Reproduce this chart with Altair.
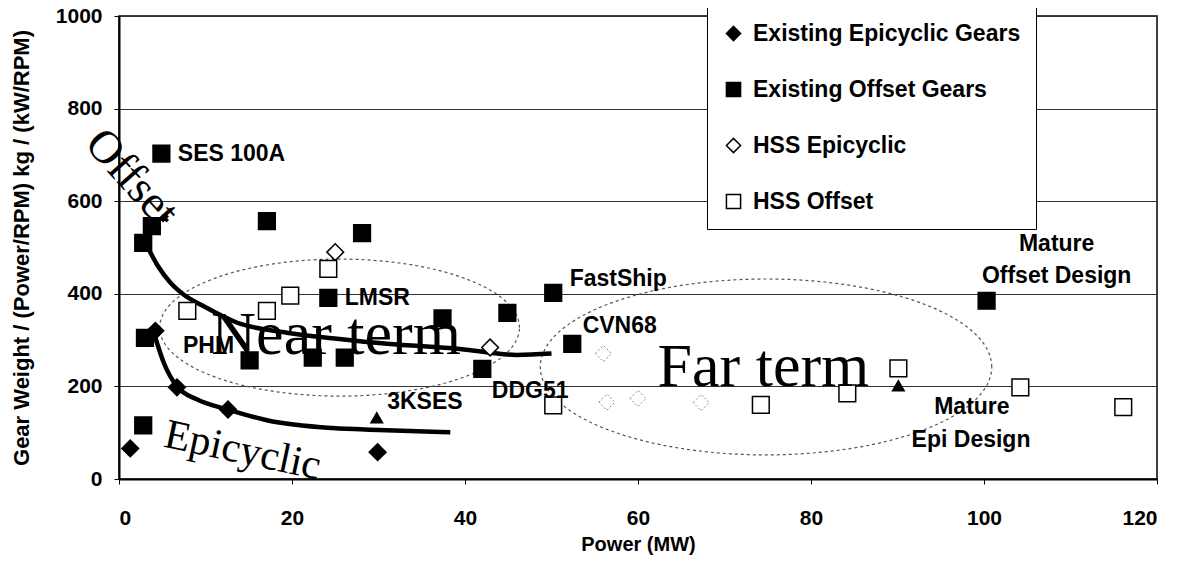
import altair as alt
import pandas as pd
import numpy as np

# ---------------- data ----------------
series_names = ["Existing Epicyclic Gears", "Existing Offset Gears", "HSS Epicyclic", "HSS Offset"]

ee_x = [1.3, 4.2, 6.7, 12.6, 29.9]
ee_y = [66, 320, 198, 150, 58]

eo_x = [4.9, 17.1, 28.1, 3.8, 2.8, 24.2, 3.0, 15.1, 22.4, 26.1, 37.4, 2.8, 50.2, 44.9, 42.0, 52.4, 100.3]
eo_y = [703, 557, 531, 546, 510, 391, 305, 256, 262, 262, 347, 116, 402, 359, 238, 292, 385]

he_x = [25.0, 42.9]
he_y = [490, 284]

he_faint_x = [56.0, 56.4, 60.0, 67.3]
he_faint_y = [271, 166, 174, 165]

ho_x = [7.9, 17.1, 19.8, 24.2, 50.2, 74.2, 84.2, 90.1, 104.2, 116.1]
ho_y = [363, 363, 396, 454, 159, 160, 185, 239, 198, 155]

tri_x = [29.8, 90.1]
tri_y = [133, 202]

cross_x = [5.3]
cross_y = [563]

offset_curve_x = [3.2, 4.5, 5.9, 7.5, 9.7, 13.6, 19.4, 25.2, 31.0, 39.4, 46.0, 50.0]
offset_curve_y = [505, 460, 425, 398, 374, 338, 316, 303, 292, 281, 268, 271]

epi_curve_x = [4.2, 5.2, 6.7, 9.0, 12.6, 17.1, 24.7, 30.0, 38.3]
epi_curve_y = [305, 250, 200, 172, 150, 127, 110, 106, 101]

# ellipses: centre x, centre y, half-width (MW), half-height
ellipse_names = ["near", "far"]
ellipse_cx = [25.5, 74.8]
ellipse_cy = [327, 242]
ellipse_rx = [20.8, 26.1]
ellipse_ry = [148, 190]

label_text = ["SES 100A", "LMSR", "PHM", "3KSES", "FastShip", "CVN68", "DDG51"]
label_x = [6.8, 26.1, 7.4, 31.0, 52.1, 53.6, 43.1]
label_y = [703, 391, 288, 166, 432, 331, 191]

clabel_text = ["Mature", "Offset Design", "Mature", "Epi Design"]
clabel_x = [108.4, 108.4, 98.6, 98.5]
clabel_y = [507, 439, 155, 84]

big_text = ["Near term", "Far term"]
big_x = [25.1, 74.5]
big_y = [271, 200]

rot_text = ["Offset", "Epicyclic"]
rot_x = [1.5, 14.3]
rot_y = [650, 62]
rot_angle = [48, 12]
rot_size = [46, 42]

# ---------------- tables ----------------
rows = []
for name, xs, ys in zip(series_names, [ee_x, eo_x, he_x, ho_x], [ee_y, eo_y, he_y, ho_y]):
    for a, b in zip(xs, ys):
        rows.append({"series": name, "power": a, "gw": b})
pts = pd.DataFrame(rows)

faint = pd.DataFrame({"power": he_faint_x, "gw": he_faint_y})
tri = pd.DataFrame({"power": tri_x, "gw": tri_y})
cross = pd.DataFrame({"power": cross_x, "gw": cross_y})

curves = pd.concat([
    pd.DataFrame({"curve": "offset", "power": offset_curve_x, "gw": offset_curve_y, "i": range(len(offset_curve_x))}),
    pd.DataFrame({"curve": "epi", "power": epi_curve_x, "gw": epi_curve_y, "i": range(len(epi_curve_x))}),
])

t = np.linspace(0, 2 * np.pi, 121)
ell_rows = []
for n, cx, cy, rx, ry in zip(ellipse_names, ellipse_cx, ellipse_cy, ellipse_rx, ellipse_ry):
    for k, tt in enumerate(t):
        ell_rows.append({"ell": n, "power": cx + rx * np.cos(tt), "gw": cy + ry * np.sin(tt), "i": k})
ell = pd.DataFrame(ell_rows)

labels = pd.DataFrame({"txt": label_text, "power": label_x, "gw": label_y})
clabels = pd.DataFrame({"txt": clabel_text, "power": clabel_x, "gw": clabel_y})
bigs = pd.DataFrame({"txt": big_text, "power": big_x, "gw": big_y})

# ---------------- encodings ----------------
X = alt.X("power:Q", scale=alt.Scale(domain=[0, 120], nice=False),
          axis=alt.Axis(values=[0, 20, 40, 60, 80, 100, 120], title="Power (MW)", grid=False,
                        format="d", labelPadding=23, tickSize=5, titlePadding=6, titleFontSize=20))
Y = alt.Y("gw:Q", scale=alt.Scale(domain=[0, 1000], nice=False),
          axis=alt.Axis(values=[0, 200, 400, 600, 800, 1000], format="d",
                        title="Gear Weight / (Power/RPM)  kg / (kW/RPM)", grid=True,
                        labelPadding=12, tickSize=5, titlePadding=22, titleFontSize=22))

legend = alt.Legend(title=None, orient="none", legendX=588, legendY=-9,
                    strokeColor="black", fillColor="white",
                    padding=15, rowPadding=32, labelFontSize=23, labelFont="Liberation Sans",
                    labelFontWeight="bold", labelColor="black", symbolSize=200,
                    symbolStrokeWidth=1.5, symbolStrokeColor="black", labelOffset=8,
                    labelLimit=400)

ellipses = alt.Chart(ell).mark_line(color="#555", strokeWidth=1.2, strokeDash=[3, 3]).encode(
    x=X, y=Y, detail="ell:N", order="i:Q")

curve_layer = alt.Chart(curves).mark_line(color="black", strokeWidth=4.5, interpolate="monotone").encode(
    x=X, y=Y, detail="curve:N", order="i:Q")

points = alt.Chart(pts).mark_point(filled=True, strokeWidth=1.5, size=280, opacity=1).encode(
    x=X, y=Y,
    shape=alt.Shape("series:N", scale=alt.Scale(domain=series_names,
                                                 range=["diamond", "square", "diamond", "square"]),
                    legend=legend),
    fill=alt.Fill("series:N", scale=alt.Scale(domain=series_names,
                                               range=["black", "black", "white", "white"]),
                  legend=legend),
    stroke=alt.Stroke("series:N", scale=alt.Scale(domain=series_names,
                                                   range=["black", "black", "black", "black"]),
                      legend=legend),
)

faint_pts = alt.Chart(faint).mark_point(shape="diamond", size=260, stroke="#888", strokeWidth=1,
                                        strokeDash=[2, 2], fill="white", filled=False, opacity=1).encode(x=X, y=Y)

tri_pts = alt.Chart(tri).mark_point(shape="triangle-up", size=200, filled=True, color="black", opacity=1).encode(x=X, y=Y)

cross_pts = alt.Chart(cross).mark_point(shape="cross", size=70, filled=True, color="black", angle=45, opacity=1).encode(x=X, y=Y)

label_layer = alt.Chart(labels).mark_text(align="left", baseline="middle", font="Liberation Sans",
                                          fontWeight="bold", fontSize=23, color="black").encode(
    x=X, y=Y, text="txt:N")

clabel_layer = alt.Chart(clabels).mark_text(align="center", baseline="middle", font="Liberation Sans",
                                            fontWeight="bold", fontSize=23, color="black").encode(
    x=X, y=Y, text="txt:N")

big_layer = alt.Chart(bigs).mark_text(align="center", baseline="alphabetic", font="Liberation Serif",
                                      fontSize=62, color="black").encode(x=X, y=Y, text="txt:N")

rot_layers = []
for i in range(len(rot_text)):
    d = pd.DataFrame({"txt": [rot_text[i]], "power": [rot_x[i]], "gw": [rot_y[i]]})
    rot_layers.append(
        alt.Chart(d).mark_text(align="center", baseline="middle", font="Liberation Serif",
                               fontSize=rot_size[i], angle=rot_angle[i], color="black").encode(
            x=X, y=Y, text="txt:N"))

chart = alt.layer(ellipses, curve_layer, faint_pts, tri_pts, cross_pts, points,
                  label_layer, clabel_layer, big_layer, *rot_layers).properties(
    width=1038, height=463,
    padding={"left": 111, "top": 8, "right": 17, "bottom": 88},
    autosize=alt.AutoSizeParams(type="none"),
    background="white",
).configure_view(stroke="black", strokeWidth=1.5).configure_axis(
    domainColor="black", domainWidth=2, tickColor="black", tickWidth=1,
    gridColor="#333", gridWidth=1, gridOpacity=1,
    labelFont="Liberation Sans", labelFontWeight="bold", labelFontSize=21, labelColor="black",
    titleFont="Liberation Sans", titleFontWeight="bold", titleColor="black",
)

chart.save("out.html", embed_options={"renderer": "svg", "actions": False})
